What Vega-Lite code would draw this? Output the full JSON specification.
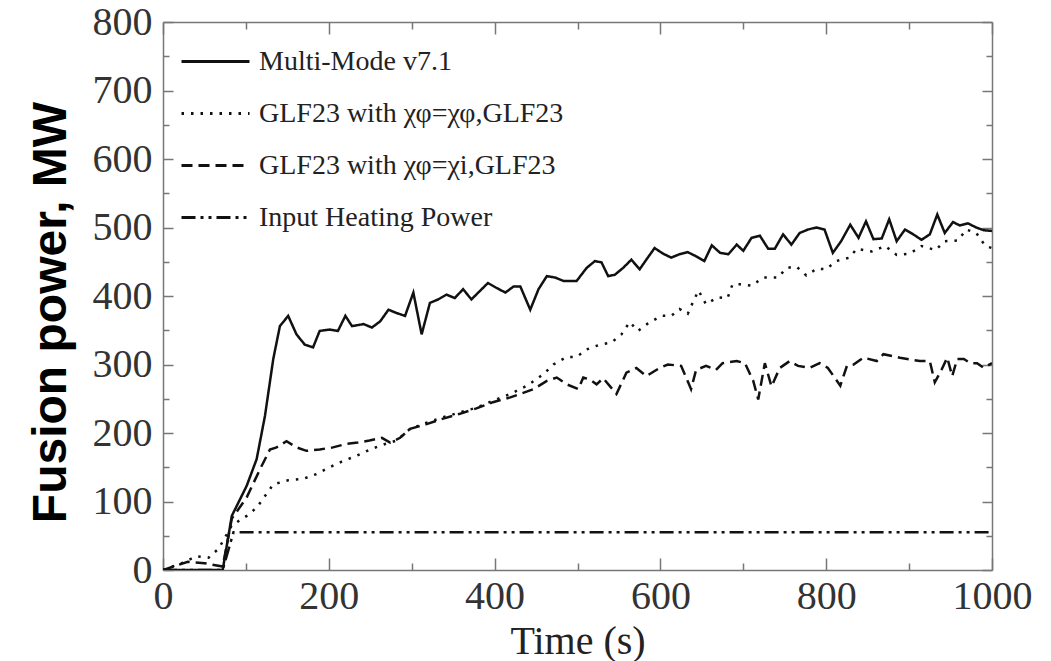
{
  "$schema": "https://vega.github.io/schema/vega-lite/v6.json",
  "width": 829,
  "height": 548,
  "autosize": {"type": "none"},
  "padding": {"left": 163, "top": 22, "right": 59, "bottom": 91},
  "background": "white",
  "config": {"view": {"stroke": null}},
  "datasets": {
    "series": [
      {"s":"a","t":0,"p":0},{"s":"a","t":40,"p":0},{"s":"a","t":72,"p":0},{"s":"a","t":83,"p":79},{"s":"a","t":101,"p":123},{"s":"a","t":113,"p":162},{"s":"a","t":123,"p":225},{"s":"a","t":133,"p":308},{"s":"a","t":141,"p":356},{"s":"a","t":151,"p":371},{"s":"a","t":161,"p":344},{"s":"a","t":171,"p":329},{"s":"a","t":181,"p":325},{"s":"a","t":189,"p":349},{"s":"a","t":201,"p":351},{"s":"a","t":211,"p":349},{"s":"a","t":220,"p":371},{"s":"a","t":228,"p":356},{"s":"a","t":242,"p":359},{"s":"a","t":252,"p":354},{"s":"a","t":262,"p":363},{"s":"a","t":272,"p":380},{"s":"a","t":282,"p":375},{"s":"a","t":292,"p":371},{"s":"a","t":302,"p":405},{"s":"a","t":312,"p":344},{"s":"a","t":322,"p":390},{"s":"a","t":332,"p":395},{"s":"a","t":342,"p":402},{"s":"a","t":352,"p":397},{"s":"a","t":362,"p":410},{"s":"a","t":372,"p":395},{"s":"a","t":382,"p":407},{"s":"a","t":392,"p":419},{"s":"a","t":402,"p":412},{"s":"a","t":413,"p":405},{"s":"a","t":423,"p":414},{"s":"a","t":431,"p":414},{"s":"a","t":443,"p":380},{"s":"a","t":453,"p":410},{"s":"a","t":463,"p":429},{"s":"a","t":473,"p":427},{"s":"a","t":483,"p":422},{"s":"a","t":499,"p":422},{"s":"a","t":511,"p":441},{"s":"a","t":521,"p":451},{"s":"a","t":529,"p":449},{"s":"a","t":537,"p":429},{"s":"a","t":545,"p":431},{"s":"a","t":555,"p":441},{"s":"a","t":565,"p":453},{"s":"a","t":575,"p":439},{"s":"a","t":583,"p":453},{"s":"a","t":593,"p":470},{"s":"a","t":603,"p":462},{"s":"a","t":613,"p":456},{"s":"a","t":623,"p":461},{"s":"a","t":633,"p":464},{"s":"a","t":643,"p":458},{"s":"a","t":653,"p":451},{"s":"a","t":662,"p":474},{"s":"a","t":672,"p":463},{"s":"a","t":682,"p":461},{"s":"a","t":692,"p":475},{"s":"a","t":700,"p":466},{"s":"a","t":710,"p":485},{"s":"a","t":720,"p":488},{"s":"a","t":730,"p":469},{"s":"a","t":738,"p":469},{"s":"a","t":748,"p":490},{"s":"a","t":758,"p":475},{"s":"a","t":768,"p":492},{"s":"a","t":778,"p":497},{"s":"a","t":788,"p":500},{"s":"a","t":798,"p":497},{"s":"a","t":808,"p":463},{"s":"a","t":818,"p":480},{"s":"a","t":829,"p":504},{"s":"a","t":839,"p":485},{"s":"a","t":848,"p":509},{"s":"a","t":857,"p":483},{"s":"a","t":867,"p":484},{"s":"a","t":876,"p":512},{"s":"a","t":885,"p":480},{"s":"a","t":895,"p":497},{"s":"a","t":905,"p":490},{"s":"a","t":915,"p":482},{"s":"a","t":925,"p":490},{"s":"a","t":934,"p":519},{"s":"a","t":943,"p":492},{"s":"a","t":953,"p":508},{"s":"a","t":961,"p":503},{"s":"a","t":971,"p":506},{"s":"a","t":981,"p":500},{"s":"a","t":990,"p":496},{"s":"a","t":1000,"p":495},
      {"s":"b","t":0,"p":0},{"s":"b","t":25,"p":11},{"s":"b","t":40,"p":20},{"s":"b","t":55,"p":18},{"s":"b","t":67,"p":31},{"s":"b","t":83,"p":65},{"s":"b","t":101,"p":79},{"s":"b","t":113,"p":91},{"s":"b","t":123,"p":108},{"s":"b","t":133,"p":125},{"s":"b","t":151,"p":131},{"s":"b","t":169,"p":133},{"s":"b","t":185,"p":140},{"s":"b","t":201,"p":150},{"s":"b","t":217,"p":159},{"s":"b","t":234,"p":167},{"s":"b","t":252,"p":177},{"s":"b","t":268,"p":184},{"s":"b","t":282,"p":189},{"s":"b","t":298,"p":206},{"s":"b","t":318,"p":215},{"s":"b","t":338,"p":223},{"s":"b","t":358,"p":230},{"s":"b","t":378,"p":237},{"s":"b","t":398,"p":247},{"s":"b","t":419,"p":257},{"s":"b","t":439,"p":269},{"s":"b","t":459,"p":286},{"s":"b","t":471,"p":300},{"s":"b","t":487,"p":311},{"s":"b","t":499,"p":311},{"s":"b","t":511,"p":322},{"s":"b","t":527,"p":329},{"s":"b","t":541,"p":332},{"s":"b","t":553,"p":344},{"s":"b","t":563,"p":362},{"s":"b","t":573,"p":349},{"s":"b","t":585,"p":360},{"s":"b","t":601,"p":371},{"s":"b","t":613,"p":371},{"s":"b","t":623,"p":381},{"s":"b","t":633,"p":374},{"s":"b","t":640,"p":393},{"s":"b","t":646,"p":408},{"s":"b","t":655,"p":388},{"s":"b","t":669,"p":398},{"s":"b","t":681,"p":397},{"s":"b","t":687,"p":417},{"s":"b","t":696,"p":417},{"s":"b","t":710,"p":415},{"s":"b","t":724,"p":427},{"s":"b","t":742,"p":427},{"s":"b","t":752,"p":441},{"s":"b","t":764,"p":443},{"s":"b","t":776,"p":430},{"s":"b","t":789,"p":440},{"s":"b","t":800,"p":439},{"s":"b","t":812,"p":451},{"s":"b","t":828,"p":456},{"s":"b","t":837,"p":469},{"s":"b","t":855,"p":465},{"s":"b","t":871,"p":473},{"s":"b","t":885,"p":460},{"s":"b","t":901,"p":462},{"s":"b","t":915,"p":473},{"s":"b","t":932,"p":467},{"s":"b","t":943,"p":480},{"s":"b","t":959,"p":481},{"s":"b","t":969,"p":497},{"s":"b","t":981,"p":492},{"s":"b","t":992,"p":473},{"s":"b","t":1000,"p":470},
      {"s":"c","t":0,"p":0},{"s":"c","t":15,"p":6},{"s":"c","t":30,"p":12},{"s":"c","t":50,"p":10},{"s":"c","t":72,"p":5},{"s":"c","t":83,"p":75},{"s":"c","t":101,"p":106},{"s":"c","t":117,"p":147},{"s":"c","t":129,"p":176},{"s":"c","t":137,"p":179},{"s":"c","t":149,"p":188},{"s":"c","t":161,"p":179},{"s":"c","t":173,"p":174},{"s":"c","t":189,"p":176},{"s":"c","t":205,"p":179},{"s":"c","t":221,"p":184},{"s":"c","t":235,"p":186},{"s":"c","t":249,"p":189},{"s":"c","t":264,"p":193},{"s":"c","t":274,"p":186},{"s":"c","t":286,"p":193},{"s":"c","t":298,"p":206},{"s":"c","t":318,"p":213},{"s":"c","t":338,"p":221},{"s":"c","t":358,"p":228},{"s":"c","t":378,"p":236},{"s":"c","t":398,"p":245},{"s":"c","t":419,"p":252},{"s":"c","t":433,"p":258},{"s":"c","t":447,"p":264},{"s":"c","t":463,"p":276},{"s":"c","t":475,"p":281},{"s":"c","t":487,"p":271},{"s":"c","t":501,"p":264},{"s":"c","t":507,"p":281},{"s":"c","t":515,"p":278},{"s":"c","t":523,"p":271},{"s":"c","t":531,"p":280},{"s":"c","t":547,"p":257},{"s":"c","t":559,"p":288},{"s":"c","t":571,"p":295},{"s":"c","t":583,"p":283},{"s":"c","t":599,"p":295},{"s":"c","t":609,"p":300},{"s":"c","t":625,"p":298},{"s":"c","t":637,"p":264},{"s":"c","t":643,"p":292},{"s":"c","t":655,"p":298},{"s":"c","t":667,"p":292},{"s":"c","t":675,"p":302},{"s":"c","t":692,"p":305},{"s":"c","t":702,"p":302},{"s":"c","t":712,"p":276},{"s":"c","t":718,"p":249},{"s":"c","t":726,"p":302},{"s":"c","t":734,"p":268},{"s":"c","t":744,"p":295},{"s":"c","t":756,"p":305},{"s":"c","t":766,"p":298},{"s":"c","t":780,"p":295},{"s":"c","t":792,"p":302},{"s":"c","t":802,"p":295},{"s":"c","t":817,"p":269},{"s":"c","t":825,"p":298},{"s":"c","t":833,"p":300},{"s":"c","t":845,"p":310},{"s":"c","t":861,"p":305},{"s":"c","t":869,"p":315},{"s":"c","t":889,"p":310},{"s":"c","t":913,"p":305},{"s":"c","t":925,"p":305},{"s":"c","t":931,"p":274},{"s":"c","t":939,"p":292},{"s":"c","t":946,"p":310},{"s":"c","t":952,"p":283},{"s":"c","t":958,"p":308},{"s":"c","t":966,"p":308},{"s":"c","t":974,"p":302},{"s":"c","t":982,"p":302},{"s":"c","t":990,"p":295},{"s":"c","t":1000,"p":302},
      {"s":"d","t":0,"p":0},{"s":"d","t":72,"p":0},{"s":"d","t":85,"p":55},{"s":"d","t":1000,"p":55}
    ]
  },
  "data": {"name": "series"},
  "layer": [
    {
      "mark": {"type": "line", "strokeWidth": 2.5, "color": "#111", "clip": true},
      "encoding": {
        "x": {
          "field": "t", "type": "quantitative",
          "scale": {"domain": [0, 1000], "nice": false},
          "axis": {
            "orient": "bottom",
            "values": [0,100,200,300,400,500,600,700,800,900,1000],
            "labelExpr": "datum.value % 200 == 0 ? format(datum.value, 'd') : ''",
            "tickSize": {"condition": {"test": "datum.value % 200 == 0", "value": -12}, "value": -7},
            "grid": false, "domainColor": "#777", "tickColor": "#777", "domainWidth": 1.5, "tickWidth": 1.5,
            "labelFont": "Liberation Serif", "labelFontSize": 40, "labelColor": "#333", "labelPadding": 18,
            "labelFlush": false, "labelOverlap": false,
            "title": "Time (s)", "titleFont": "Liberation Serif", "titleFontSize": 40, "titleFontWeight": "normal", "titleColor": "#222", "titlePadding": 0
          }
        },
        "y": {
          "field": "p", "type": "quantitative",
          "scale": {"domain": [0, 800], "nice": false},
          "axis": {
            "orient": "left",
            "values": [0,50,100,150,200,250,300,350,400,450,500,550,600,650,700,750,800],
            "labelExpr": "datum.value % 100 == 0 ? format(datum.value, 'd') : ''",
            "tickSize": {"condition": {"test": "datum.value % 100 == 0", "value": -10}, "value": -6},
            "grid": false, "domainColor": "#777", "tickColor": "#777", "domainWidth": 1.5, "tickWidth": 1.5,
            "labelFont": "Liberation Serif", "labelFontSize": 40, "labelColor": "#333", "labelPadding": 21,
            "labelFlush": false, "labelOverlap": false,
            "title": "Fusion power, MW", "titleFont": "Liberation Sans", "titleFontSize": 48, "titleFontWeight": "bold", "titleColor": "#000", "titlePadding": 17, "titleY": 290
          }
        },
        "strokeDash": {
          "field": "s", "type": "nominal",
          "scale": {"domain": ["a","b","c","d"], "range": [[1,0],[2.5,7],[11,6],[14,5,3,5,3,5]]},
          "legend": {
            "orient": "none", "legendX": 17, "legendY": 4, "title": null, "padding": 0,
            "labelFont": "Liberation Serif", "labelFontSize": 28, "labelColor": "#222", "labelOffset": 8, "labelLimit": 600,
            "symbolType": "stroke", "symbolSize": 4624, "symbolStrokeWidth": 2.8, "symbolStrokeColor": "#111",
            "rowPadding": 2,
            "labelExpr": "datum.value == 'a' ? 'Multi-Mode v7.1' : datum.value == 'b' ? 'GLF23 with χφ=χφ,GLF23' : datum.value == 'c' ? 'GLF23 with χφ=χi,GLF23' : 'Input Heating Power'"
          }
        }
      }
    },
    {
      "mark": {"type": "line", "strokeOpacity": 0},
      "encoding": {
        "detail": {"field": "s", "type": "nominal"},
        "x": {
          "field": "t", "type": "quantitative",
          "scale": {"domain": [0, 1000], "nice": false},
          "axis": {
            "orient": "top", "values": [0,100,200,300,400,500,600,700,800,900,1000], "labels": false, "title": null,
            "tickSize": {"condition": {"test": "datum.value % 200 == 0", "value": -12}, "value": -7},
            "grid": false, "domainColor": "#777", "tickColor": "#777", "domainWidth": 1.5, "tickWidth": 1.5
          }
        },
        "y": {
          "field": "p", "type": "quantitative",
          "scale": {"domain": [0, 800], "nice": false},
          "axis": {
            "orient": "right", "values": [0,50,100,150,200,250,300,350,400,450,500,550,600,650,700,750,800], "labels": false, "title": null,
            "tickSize": {"condition": {"test": "datum.value % 100 == 0", "value": -10}, "value": -6},
            "grid": false, "domainColor": "#777", "tickColor": "#777", "domainWidth": 1.5, "tickWidth": 1.5
          }
        }
      }
    }
  ],
  "resolve": {"axis": {"x": "independent", "y": "independent"}}
}
